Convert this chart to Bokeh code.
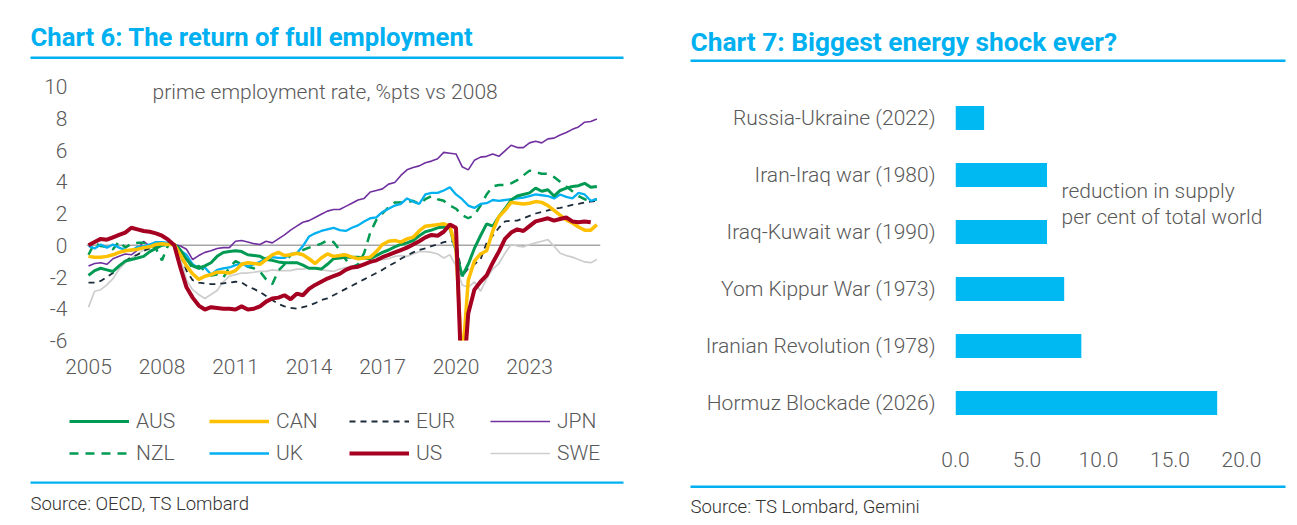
from bokeh.plotting import figure
from bokeh.models import (Range1d, FactorRange, FixedTicker, Label, BoxAnnotation, Span,
                          Legend, LegendItem, NumeralTickFormatter, PrintfTickFormatter)
from bokeh.layouts import row, column
from bokeh.embed import file_html
from bokeh.resources import INLINE

# ---------------- Chart 6: prime employment rate, %pts vs 2008 (quarterly from 2005Q1) ----------------
START_YEAR = 2005

aus = [-1.9, -1.6, -1.45, -1.55, -1.65, -1.3, -1.0, -0.9, -0.8, -0.7, -0.4, -0.2,
       0.0, 0.05, 0.05, -0.3, -0.9, -1.3, -1.45, -1.3, -1.1, -0.7, -0.45, -0.4,
       -0.35, -0.4, -0.6, -0.65, -0.7, -0.9, -0.95, -1.05, -1.1, -1.1, -1.1, -1.25,
       -1.45, -1.45, -1.5, -1.2, -0.85, -0.8, -0.75, -0.75, -0.75, -0.8, -0.85, -0.65,
       -0.45, -0.3, -0.1, 0.05, 0.15, 0.3, 0.6, 0.85, 0.95, 1.1, 1.15, 1.1,
       -0.35, -1.95, -1.2, -0.2, 0.6, 1.35, 1.2, 1.8, 2.3, 2.85, 3.1, 3.2,
       3.3, 3.6, 3.4, 3.5, 3.1, 3.45, 3.6, 3.7, 3.75, 3.9, 3.65, 3.7]

can = [-0.7, -0.75, -0.75, -0.7, -0.6, -0.45, -0.35, -0.3, -0.25, -0.15, -0.1, 0.05,
       0.1, 0.05, 0.05, -0.6, -1.3, -1.8, -2.15, -1.95, -1.85, -1.7, -1.7, -1.75,
       -1.6, -1.2, -1.1, -1.15, -1.2, -0.9, -0.6, -0.45, -0.65, -0.6, -0.5, -0.6,
       -0.85, -1.15, -0.8, -0.55, -0.7, -0.65, -0.6, -0.75, -0.85, -0.8, -0.75, -0.4,
       0.05, 0.25, 0.3, 0.2, 0.4, 0.5, 0.9, 1.2, 1.25, 1.3, 1.35, 1.2,
       -0.2, -7.5, -2.2, -1.0, -0.55, -0.35, 0.9, 1.8, 2.2, 2.7, 2.65, 2.6,
       2.65, 2.75, 2.7, 2.5, 2.2, 1.9, 1.6, 1.4, 1.15, 0.95, 0.95, 1.3]

eur = [-2.35, -2.35, -2.25, -2.0, -1.75, -1.3, -1.0, -0.75, -0.6, -0.35, -0.2, -0.05,
       0.0, 0.05, 0.0, -0.6, -1.6, -2.2, -2.35, -2.4, -2.45, -2.45, -2.4, -2.35,
       -2.3, -2.35, -2.6, -2.75, -2.95, -3.2, -3.45, -3.7, -3.85, -3.95, -4.0, -3.9,
       -3.8, -3.65, -3.45, -3.35, -3.15, -2.95, -2.75, -2.55, -2.35, -2.15, -1.95, -1.75,
       -1.55, -1.3, -1.1, -0.85, -0.65, -0.45, -0.3, -0.2, -0.05, 0.05, 0.2, 0.25,
       0.25, -1.95, -1.45, -1.2, -0.9, 0.15, 0.6, 1.1, 1.5, 1.55, 1.55, 1.7,
       1.85, 2.0, 2.1, 2.2, 2.3, 2.35, 2.45, 2.55, 2.6, 2.7, 2.75, 2.8]

jpn = [-1.3, -1.15, -1.1, -1.2, -0.85, -0.7, -0.55, -0.6, -0.3, 0.25, -0.05, 0.05,
       0.15, 0.1, 0.05, -0.05, -0.25, -0.9, -0.65, -0.45, -0.35, -0.2, -0.15, -0.15,
       0.25, 0.3, 0.2, 0.1, 0.05, 0.25, 0.15, 0.4, 0.65, 0.95, 1.2, 1.45,
       1.55, 1.75, 1.95, 2.15, 2.25, 2.25, 2.45, 2.65, 2.85, 2.95, 3.35, 3.45,
       3.55, 3.85, 3.95, 4.4, 4.75, 4.9, 5.0, 5.2, 5.3, 5.45, 5.85, 5.8,
       5.75, 4.95, 4.75, 5.35, 5.55, 5.6, 5.75, 5.6, 5.95, 6.3, 6.15, 6.15,
       6.45, 6.55, 6.45, 6.7, 6.75, 6.95, 7.1, 7.3, 7.45, 7.75, 7.8, 7.95]

nzl = [-0.6, 0.15, -0.05, -0.1, -0.25, 0.25, -0.15, 0.1, 0.15, 0.15, 0.1, -0.2,
       -0.95, 0.0, 0.25, -0.3, -0.8, -1.5, -1.3, -1.6, -1.9, -1.85, -2.05, -1.4,
       -1.0, -1.2, -1.35, -1.45, -1.65, -2.15, -2.45, -1.6, -1.2, -0.6, -0.5, -0.3,
       -0.15, -0.05, 0.1, 0.3, 0.2, -0.3, -0.9, -1.4, -1.2, -0.5, 0.8, 1.6,
       2.0, 2.4, 2.7, 2.7, 2.7, 2.8, 2.6, 2.9, 3.1, 2.9, 2.8, 2.5,
       2.3, 1.9, 1.7, 1.9, 2.5, 3.2, 3.7, 3.8, 3.8, 3.9, 4.1, 4.4,
       4.7, 4.6, 4.5, 4.5, 4.3, 4.0, 3.7, 3.4, 3.1, 2.9, 2.8, 2.9]

uk = [-0.05, -0.2, 0.05, -0.15, 0.05, -0.15, -0.3, -0.35, -0.1, -0.05, 0.05, 0.2,
      0.2, 0.15, -0.05, -0.35, -0.6, -1.2, -1.45, -1.4, -1.85, -1.55, -1.45, -1.4,
      -1.25, -1.15, -1.35, -1.2, -1.05, -0.8, -0.75, -0.8, -0.8, -0.55, -0.5, -0.05,
      0.55, 0.75, 0.9, 1.0, 1.1, 0.95, 0.9, 1.1, 1.25, 1.5, 1.7, 1.75,
      2.1, 2.3, 2.5, 2.6, 2.95, 2.75, 2.6, 3.2, 3.3, 3.3, 3.45, 3.65,
      3.2, 2.9, 2.5, 2.35, 2.6, 2.65, 2.85, 2.8, 2.85, 2.9, 2.95, 3.0,
      3.1, 3.2, 3.15, 3.1, 2.95, 3.2, 3.05, 2.95, 3.3, 3.2, 2.8, 2.9]

us = [0.0, 0.2, 0.4, 0.35, 0.5, 0.65, 0.8, 1.1, 1.0, 0.9, 0.85, 0.75,
      0.6, 0.35, 0.0, -1.4, -2.65, -3.3, -3.8, -4.05, -3.9, -3.95, -4.0, -4.0,
      -4.05, -3.85, -4.05, -4.0, -3.85, -3.55, -3.35, -3.3, -3.15, -3.4, -3.05, -3.15,
      -2.75, -2.5, -2.3, -2.1, -1.95, -1.8, -1.55, -1.4, -1.35, -1.2, -1.05, -0.95,
      -0.75, -0.6, -0.45, -0.3, -0.15, 0.05, 0.25, 0.5, 0.65, 0.6, 0.85, 1.3,
      1.1, -9.5, -4.3, -2.8, -2.3, -1.9, -1.1, -0.4, 0.4, 0.8, 1.0, 0.9,
      1.2, 1.5, 1.6, 1.7, 1.55, 1.65, 1.75, 1.5, 1.45, 1.5, 1.45]

swe = [-3.9, -2.9, -2.8, -2.5, -2.1, -1.5, -1.1, -0.8, -0.55, -0.3, -0.15, 0.0,
       0.05, 0.05, 0.0, -0.8, -2.2, -2.8, -3.1, -3.35, -3.1, -2.85, -2.3, -1.95,
       -1.85, -1.75, -1.75, -1.7, -1.65, -1.65, -1.55, -1.6, -1.6, -1.6, -1.5, -1.5,
       -1.45, -1.45, -1.55, -1.6, -1.65, -1.5, -1.4, -1.3, -1.25, -1.2, -1.05, -0.95,
       -0.9, -0.85, -0.7, -0.65, -0.7, -0.55, -0.4, -0.4, -0.45, -0.55, -0.8, -0.6,
       -1.3, -2.5, -2.65, -2.3, -2.9, -2.1, -1.5, -1.15, -0.5, 0.05, -0.05, -0.1,
       0.05, 0.15, 0.25, 0.35, -0.05, -0.5, -0.65, -0.75, -0.9, -1.05, -1.1, -0.9]

year_ticks = [2005, 2008, 2011, 2014, 2017, 2020, 2023]
rate_ticks = [-6, -4, -2, 0, 2, 4, 6, 8, 10]

# ---------------- Chart 7: reduction in supply, per cent of total world ----------------
events = ["Russia-Ukraine (2022)", "Iran-Iraq war (1980)", "Iraq-Kuwait war (1990)",
          "Yom Kippur War (1973)", "Iranian Revolution (1978)", "Hormuz Blockade (2026)"]
supply_cut = [2.0, 6.4, 6.4, 7.6, 8.8, 18.3]
cut_ticks = [0, 5, 10, 15, 20]

# ---------------- styling ----------------
BLUE = "#00B0F0"
BAR = "#00B9F2"
GREY_TXT = "#595959"
SRC_TXT = "#333333"
LIGHT = "Roboto Light"
BOLD = "Roboto"

styles = {
    "SWE": dict(line_color="#CDCDCD", line_width=1.7, line_dash="solid"),
    "EUR": dict(line_color="#1C2B3A", line_width=1.8, line_dash="6 5"),
    "JPN": dict(line_color="#7030A0", line_width=1.6, line_dash="solid"),
    "NZL": dict(line_color="#009A52", line_width=2.5, line_dash="9 7"),
    "UK": dict(line_color="#00B0F0", line_width=2.3, line_dash="solid"),
    "AUS": dict(line_color="#009A52", line_width=3.0, line_dash="solid"),
    "CAN": dict(line_color="#FFC000", line_width=3.5, line_dash="solid"),
    "US": dict(line_color="#A50021", line_width=4.0, line_dash="solid"),
}
series = {"SWE": swe, "EUR": eur, "JPN": jpn, "NZL": nzl, "UK": uk, "AUS": aus, "CAN": can, "US": us}
legend_columns = [(("AUS", "NZL"), 69), (("CAN", "UK"), 209), (("EUR", "US"), 349), (("JPN", "SWE"), 490)]


def quarters(n):
    return [START_YEAR + 0.25 * i for i in range(n)]


def base_fig(w, h, **kw):
    f = figure(width=w, height=h, output_backend="svg", toolbar_location=None,
               frame_align=False, **kw)
    f.outline_line_color = None
    f.background_fill_color = "white"
    f.border_fill_color = "white"
    return f


def strip_fig(w, h):
    # a plain canvas in pixel units (y grows downward) for headings, rules, keys and sources
    return base_fig(w, h, x_range=Range1d(0, w), y_range=Range1d(h, 0),
                    x_axis_type=None, y_axis_type=None,
                    min_border_left=0, min_border_right=0, min_border_top=0, min_border_bottom=0)


def add_text(p, text, x, y, size, color=GREY_TXT, font=LIGHT, style="normal", units="data"):
    p.add_layout(Label(x=x, y=y, x_units=units, y_units=units, text=text,
                       text_font=font, text_font_size=size, text_font_style=style,
                       text_color=color, text_align="left", text_baseline="middle"))


def add_rule(p, x0, x1, y0, y1):
    p.add_layout(BoxAnnotation(left=x0, right=x1, top=y0, bottom=y1,
                               fill_color=BLUE, fill_alpha=1.0, line_color=None))


def clean_axes(p):
    for ax in (p.xaxis, p.yaxis):
        ax.axis_line_color = None
        ax.major_tick_line_color = None
        ax.minor_tick_line_color = None
        ax.major_tick_out = 0
        ax.major_tick_in = 0
        ax.minor_tick_out = 0
        ax.minor_tick_in = 0
        ax.major_label_text_font = LIGHT
        ax.major_label_text_font_size = "21px"
        ax.major_label_text_color = GREY_TXT
    p.xgrid.grid_line_color = None
    p.ygrid.grid_line_color = None


# ---------------- left panel ----------------
hdr_l = strip_fig(650, 70)
add_text(hdr_l, "Chart 6: The return of full employment", 30, 36, "25.7px", color=BLUE, font=BOLD, style="bold")
add_rule(hdr_l, 30, 623, 56, 58.5)

PX_PER_YEAR = 24.5
PX_PER_PT = 15.875
x0 = 2005 - 2 / PX_PER_YEAR
chart_l = base_fig(650, 320,
                   x_range=Range1d(x0, x0 + 514 / PX_PER_YEAR),
                   y_range=Range1d(-6, 10 + 8 / PX_PER_PT),
                   min_border_left=86, min_border_right=50, min_border_top=8, min_border_bottom=50)
clean_axes(chart_l)
chart_l.xaxis.ticker = FixedTicker(ticks=year_ticks)
chart_l.xaxis.formatter = PrintfTickFormatter(format="%d")
chart_l.xaxis.major_label_standoff = 18
chart_l.yaxis.ticker = FixedTicker(ticks=rate_ticks)
chart_l.yaxis.formatter = PrintfTickFormatter(format="%d")
chart_l.yaxis.major_label_standoff = 19
chart_l.add_layout(Span(location=0, dimension="width", line_color="#A6A6A6", line_width=1.5,
                        level="underlay"))
for name, vals in series.items():
    chart_l.line(quarters(len(vals)), vals, **styles[name])
add_text(chart_l, "prime employment rate, %pts vs 2008", 152, 21, "21px", units="canvas")

# legend keys live in the strip below the chart; they hold a single empty (NaN) point
ftr_l = strip_fig(650, 135)
nan = float("nan")
keys = {name: ftr_l.line(x=[nan], y=[nan], **styles[name]) for name in styles}
for names, xpos in legend_columns:
    ftr_l.add_layout(Legend(
        items=[LegendItem(label=n, renderers=[keys[n]]) for n in names],
        location=(xpos, 135 - 79), orientation="vertical",
        glyph_width=60, glyph_height=32, label_height=32, label_standoff=7, spacing=0,
        padding=0, margin=0, border_line_color=None, background_fill_alpha=0,
        label_text_font=LIGHT, label_text_font_size="21px", label_text_color=GREY_TXT))
add_rule(ftr_l, 30, 623, 91, 93.2)
add_text(ftr_l, "Source: OECD, TS Lombard", 30, 113, "18.5px", color=SRC_TXT, font=LIGHT)

# ---------------- right panel ----------------
hdr_r = strip_fig(647, 70)
add_text(hdr_r, "Chart 7: Biggest energy shock ever?", 40, 41, "26.3px", color=BLUE, font=BOLD, style="bold")
add_rule(hdr_r, 40, 635, 59, 61.5)

PX_PER_UNIT = 14.3
chart_r = base_fig(647, 405,
                   x_range=Range1d(0, 329 / PX_PER_UNIT), y_range=FactorRange(factors=events[::-1]),
                   min_border_left=305, min_border_right=13, min_border_top=19, min_border_bottom=44)
clean_axes(chart_r)
chart_r.xaxis.ticker = FixedTicker(ticks=cut_ticks)
chart_r.xaxis.formatter = NumeralTickFormatter(format="0.0")
chart_r.xaxis.major_label_standoff = 20
chart_r.yaxis.major_label_standoff = 20
chart_r.hbar(y=events, left=0, right=supply_cut, height=0.42, fill_color=BAR, line_color=None)
add_text(chart_r, "reduction in supply", 411, 120, "21px", units="canvas")
add_text(chart_r, "per cent of total world", 411, 146, "21px", units="canvas")

ftr_r = strip_fig(647, 50)
add_rule(ftr_r, 40, 635, 10, 12.5)
add_text(ftr_r, "Source: TS Lombard, Gemini", 40, 31, "18.5px", color=SRC_TXT, font=LIGHT)

layout = row(column(hdr_l, chart_l, ftr_l), column(hdr_r, chart_r, ftr_r))
open("out.html", "w").write(file_html(layout, INLINE))
